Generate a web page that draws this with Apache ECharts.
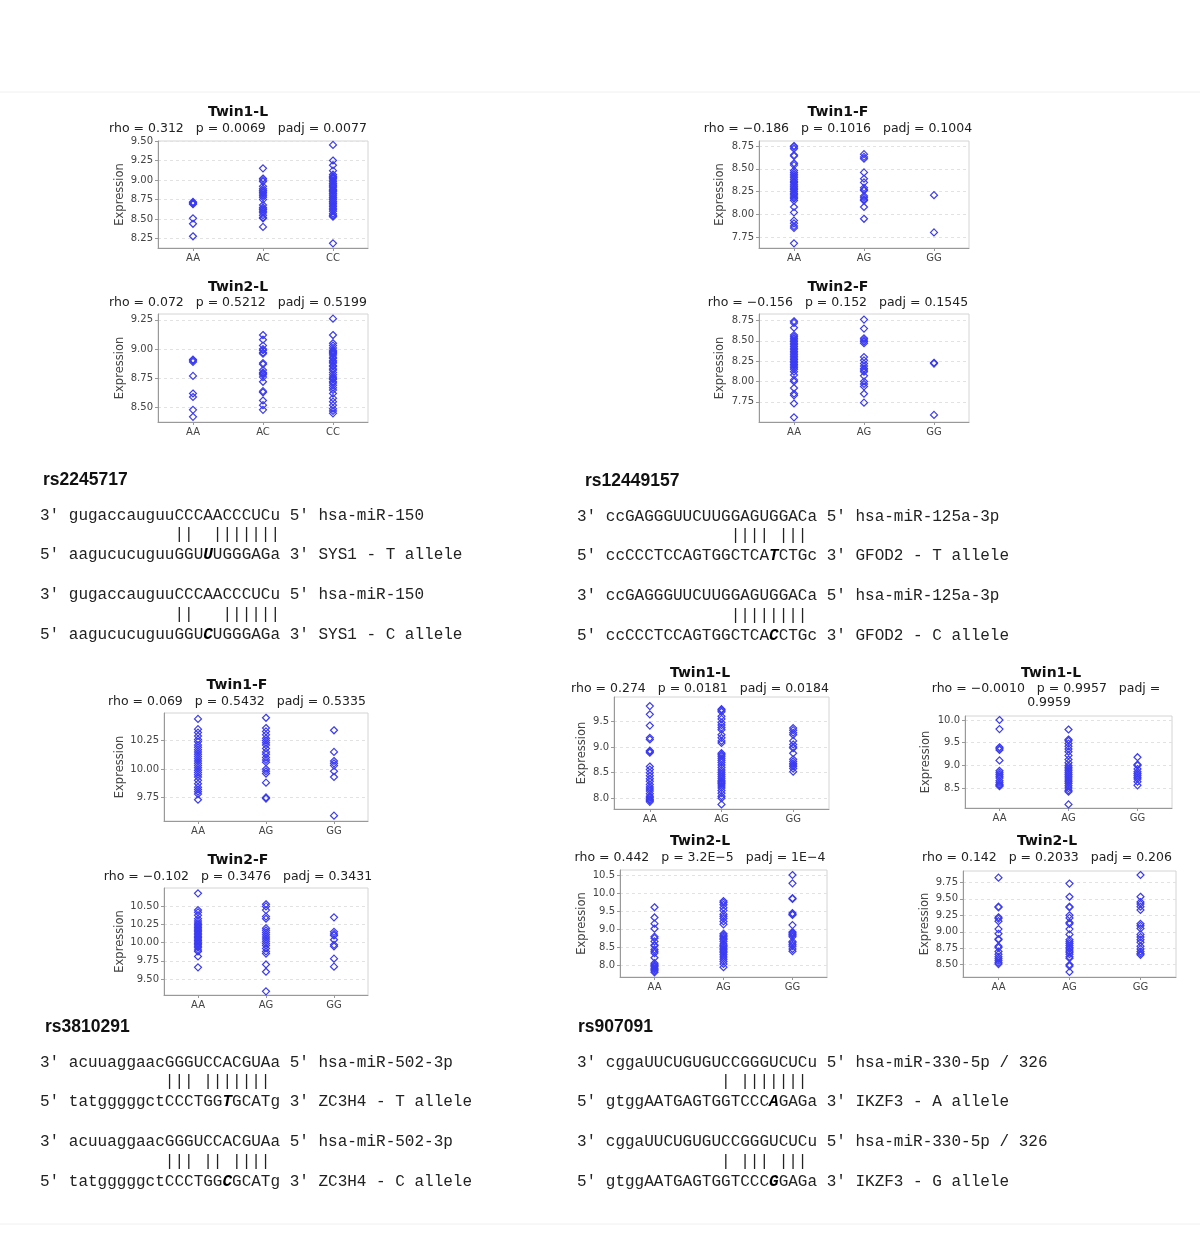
<!DOCTYPE html>
<html>
<head>
<meta charset="utf-8">
<title>SNP genotype vs expression</title>
<script src="https://cdn.jsdelivr.net/npm/echarts@6/dist/echarts.min.js"></script>
<style>
  html, body { margin: 0; padding: 0; background: #fff; }
  #chart { width: 1200px; height: 1238px; }
</style>
</head>
<body>
<div id="chart"></div>
<script>
// genotype categories
const genoAC = ['AA', 'AC', 'CC'];
const genoAG = ['AA', 'AG', 'GG'];

// rs2245717 – Twin1-L / Twin2-L  (AA, AC, CC)
const t1L_rs2245717 = [
  [8.72, 8.71, 8.70, 8.69, 8.51, 8.44, 8.28],
  [9.15, 9.02, 9.00, 8.98, 8.92, 8.89, 8.87, 8.86, 8.84, 8.82, 8.80, 8.78, 8.75, 8.68, 8.65, 8.63, 8.62, 8.60, 8.58, 8.55, 8.52, 8.51, 8.40],
  [9.45, 9.25, 9.19, 9.12, 9.07, 9.05, 9.04, 9.03, 9.02, 9.00, 8.98, 8.96, 8.95, 8.93, 8.92, 8.90, 8.88, 8.87, 8.86, 8.85, 8.83, 8.82, 8.80, 8.78, 8.77, 8.75, 8.73, 8.72, 8.70, 8.68, 8.66, 8.64, 8.62, 8.60, 8.57, 8.55, 8.54, 8.53, 8.19]
];
const t2L_rs2245717 = [
  [8.91, 8.90, 8.89, 8.77, 8.62, 8.59, 8.48, 8.42],
  [9.12, 9.08, 9.03, 9.00, 8.99, 8.97, 8.96, 8.88, 8.87, 8.82, 8.80, 8.79, 8.78, 8.76, 8.72, 8.64, 8.63, 8.56, 8.52, 8.48],
  [9.26, 9.12, 9.05, 9.03, 9.01, 8.99, 8.98, 8.97, 8.96, 8.95, 8.93, 8.92, 8.90, 8.89, 8.88, 8.86, 8.85, 8.83, 8.82, 8.80, 8.78, 8.76, 8.75, 8.74, 8.72, 8.71, 8.69, 8.67, 8.65, 8.62, 8.58, 8.55, 8.52, 8.49, 8.47, 8.45]
];

// rs12449157 – Twin1-F / Twin2-F  (AA, AG, GG)
const t1F_rs12449157 = [
  [8.75, 8.74, 8.72, 8.65, 8.64, 8.56, 8.54, 8.48, 8.46, 8.44, 8.42, 8.40, 8.38, 8.36, 8.35, 8.33, 8.31, 8.30, 8.28, 8.27, 8.25, 8.23, 8.22, 8.20, 8.18, 8.17, 8.15, 8.08, 8.02, 7.93, 7.90, 7.87, 7.85, 7.68],
  [8.66, 8.63, 8.61, 8.46, 8.39, 8.35, 8.29, 8.27, 8.26, 8.20, 8.18, 8.16, 8.15, 8.08, 7.95],
  [8.21, 7.80]
];
const t2F_rs12449157 = [
  [8.74, 8.72, 8.66, 8.57, 8.55, 8.53, 8.51, 8.49, 8.47, 8.45, 8.43, 8.41, 8.39, 8.37, 8.35, 8.33, 8.31, 8.29, 8.27, 8.25, 8.23, 8.21, 8.19, 8.17, 8.15, 8.12, 8.08, 8.02, 8.00, 7.92, 7.85, 7.83, 7.73, 7.56],
  [8.76, 8.65, 8.53, 8.51, 8.49, 8.47, 8.30, 8.26, 8.22, 8.19, 8.16, 8.14, 8.12, 8.07, 8.00, 7.97, 7.94, 7.85, 7.74],
  [8.23, 8.22, 7.59]
];

// rs3810291 – Twin1-F / Twin2-F  (AA, AG, GG)
const t1F_rs3810291 = [
  [10.44, 10.35, 10.32, 10.29, 10.26, 10.24, 10.21, 10.19, 10.17, 10.15, 10.13, 10.11, 10.09, 10.07, 10.05, 10.03, 10.01, 9.99, 9.97, 9.95, 9.93, 9.90, 9.87, 9.84, 9.82, 9.80, 9.78, 9.73],
  [10.45, 10.36, 10.33, 10.30, 10.27, 10.25, 10.23, 10.21, 10.18, 10.15, 10.13, 10.10, 10.08, 10.06, 10.00, 9.98, 9.96, 9.88, 9.75, 9.74],
  [10.34, 10.15, 10.07, 10.05, 10.03, 9.98, 9.93, 9.59]
];
const t2F_rs3810291 = [
  [10.68, 10.45, 10.42, 10.38, 10.33, 10.30, 10.27, 10.25, 10.23, 10.21, 10.19, 10.17, 10.15, 10.13, 10.11, 10.09, 10.07, 10.05, 10.03, 10.01, 9.99, 9.97, 9.95, 9.93, 9.90, 9.88, 9.81, 9.66],
  [10.53, 10.50, 10.45, 10.36, 10.33, 10.20, 10.17, 10.14, 10.11, 10.08, 10.05, 10.02, 9.99, 9.96, 9.92, 9.88, 9.85, 9.70, 9.60, 9.33],
  [10.35, 10.15, 10.12, 10.10, 10.04, 9.97, 9.95, 9.78, 9.67]
];

// rs907091 – Twin1-L / Twin2-L, two probes  (AA, AG, GG)
const t1L_rs907091a = [
  [9.80, 9.64, 9.42, 9.18, 9.15, 8.93, 8.91, 8.89, 8.62, 8.56, 8.50, 8.44, 8.38, 8.33, 8.27, 8.22, 8.18, 8.14, 8.09, 8.04, 8.01, 7.98, 7.96, 7.93],
  [9.74, 9.72, 9.69, 9.60, 9.55, 9.48, 9.43, 9.38, 9.34, 9.24, 9.18, 9.12, 9.08, 8.88, 8.85, 8.82, 8.78, 8.74, 8.70, 8.65, 8.60, 8.55, 8.51, 8.47, 8.43, 8.39, 8.35, 8.32, 8.30, 8.28, 8.24, 8.20, 8.15, 8.10, 8.04, 8.00, 7.88],
  [9.37, 9.33, 9.28, 9.24, 9.12, 9.05, 9.00, 8.98, 8.88, 8.76, 8.72, 8.68, 8.65, 8.62, 8.58, 8.52]
];
const t2L_rs907091a = [
  [9.61, 9.33, 9.16, 9.02, 8.80, 8.76, 8.67, 8.57, 8.55, 8.45, 8.40, 8.35, 8.22, 8.07, 8.03, 8.00, 7.97, 7.93, 7.90, 7.86, 7.82],
  [9.78, 9.74, 9.68, 9.60, 9.52, 9.42, 9.36, 9.30, 9.22, 9.14, 8.88, 8.84, 8.80, 8.76, 8.72, 8.67, 8.60, 8.56, 8.52, 8.48, 8.44, 8.40, 8.36, 8.30, 8.24, 8.18, 8.12, 8.05, 7.96],
  [10.50, 10.27, 9.86, 9.84, 9.45, 9.42, 9.40, 9.12, 8.93, 8.90, 8.87, 8.84, 8.80, 8.67, 8.63, 8.58, 8.54, 8.46, 8.40]
];
const t1L_rs907091b = [
  [10.00, 9.80, 9.40, 9.37, 9.34, 9.11, 8.88, 8.84, 8.80, 8.76, 8.72, 8.66, 8.62, 8.58, 8.56, 8.54],
  [9.79, 9.57, 9.54, 9.48, 9.42, 9.36, 9.30, 9.22, 9.13, 9.06, 9.00, 8.96, 8.92, 8.88, 8.84, 8.80, 8.76, 8.72, 8.68, 8.64, 8.60, 8.55, 8.50, 8.45, 8.42, 8.14],
  [9.18, 9.02, 9.00, 8.92, 8.86, 8.82, 8.78, 8.74, 8.70, 8.64, 8.56]
];
const t2L_rs907091b = [
  [9.82, 9.38, 9.37, 9.22, 9.20, 9.16, 9.04, 8.97, 8.89, 8.88, 8.78, 8.76, 8.70, 8.66, 8.62, 8.59, 8.56, 8.53, 8.51],
  [9.73, 9.53, 9.38, 9.37, 9.25, 9.21, 9.14, 9.12, 9.04, 8.96, 8.88, 8.85, 8.82, 8.79, 8.76, 8.74, 8.71, 8.69, 8.66, 8.62, 8.60, 8.50, 8.48, 8.39],
  [9.86, 9.53, 9.45, 9.42, 9.38, 9.33, 9.12, 9.09, 9.05, 8.96, 8.92, 8.88, 8.84, 8.78, 8.74, 8.70, 8.67, 8.65]
];

// y tick labels per panel
const ticks1 = [8.25, 8.50, 8.75, 9.00, 9.25, 9.50];
const ticks2 = [8.50, 8.75, 9.00, 9.25];
const ticks3 = [7.75, 8.00, 8.25, 8.50, 8.75];
const ticks4 = [7.75, 8.00, 8.25, 8.50, 8.75];
const ticks5 = [9.75, 10.00, 10.25];
const ticks6 = [9.50, 9.75, 10.00, 10.25, 10.50];
const ticks7 = [8.0, 8.5, 9.0, 9.5];
const ticks8 = [8.0, 8.5, 9.0, 9.5, 10.0, 10.5];
const ticks9 = [8.5, 9.0, 9.5, 10.0];
const ticks10 = [8.50, 8.75, 9.00, 9.25, 9.50, 9.75];

// panel titles and statistics
const titles = ['Twin1-L', 'Twin2-L', 'Twin1-F', 'Twin2-F', 'Twin1-F', 'Twin2-F', 'Twin1-L', 'Twin2-L', 'Twin1-L', 'Twin2-L'];
const stats = [
  ['rho = 0.312   p = 0.0069   padj = 0.0077'],
  ['rho = 0.072   p = 0.5212   padj = 0.5199'],
  ['rho = \u22120.186   p = 0.1016   padj = 0.1004'],
  ['rho = \u22120.156   p = 0.152   padj = 0.1545'],
  ['rho = 0.069   p = 0.5432   padj = 0.5335'],
  ['rho = \u22120.102   p = 0.3476   padj = 0.3431'],
  ['rho = 0.274   p = 0.0181   padj = 0.0184'],
  ['rho = 0.442   p = 3.2E\u22125   padj = 1E\u22124'],
  ['rho = \u22120.0010   p = 0.9957   padj =', '0.9959'],
  ['rho = 0.142   p = 0.2033   padj = 0.206']
];

// miRNA / target alignments: [pre, allele, post]
const snpNames = ['rs2245717', 'rs12449157', 'rs3810291', 'rs907091'];
const align_rs2245717 = [
  ["3' gugaccauguuCCCAACCCUCu 5' hsa-miR-150"],
  ["              ||  |||||||"],
  ["5' aagucucuguuGGU", "U", "UGGGAGa 3' SYS1 - T allele"],
  ["3' gugaccauguuCCCAACCCUCu 5' hsa-miR-150"],
  ["              ||   ||||||"],
  ["5' aagucucuguuGGU", "C", "UGGGAGa 3' SYS1 - C allele"]
];
const align_rs12449157 = [
  ["3' ccGAGGGUUCUUGGAGUGGACa 5' hsa-miR-125a-3p"],
  ["                |||| |||"],
  ["5' ccCCCTCCAGTGGCTCA", "T", "CTGc 3' GFOD2 - T allele"],
  ["3' ccGAGGGUUCUUGGAGUGGACa 5' hsa-miR-125a-3p"],
  ["                ||||||||"],
  ["5' ccCCCTCCAGTGGCTCA", "C", "CTGc 3' GFOD2 - C allele"]
];
const align_rs3810291 = [
  ["3' acuuaggaacGGGUCCACGUAa 5' hsa-miR-502-3p"],
  ["             ||| |||||||"],
  ["5' tatgggggctCCCTGG", "T", "GCATg 3' ZC3H4 - T allele"],
  ["3' acuuaggaacGGGUCCACGUAa 5' hsa-miR-502-3p"],
  ["             ||| || ||||"],
  ["5' tatgggggctCCCTGG", "C", "GCATg 3' ZC3H4 - C allele"]
];
const align_rs907091 = [
  ["3' cggaUUCUGUGUCCGGGUCUCu 5' hsa-miR-330-5p / 326"],
  ["               | |||||||"],
  ["5' gtggAATGAGTGGTCCC", "A", "GAGa 3' IKZF3 - A allele"],
  ["3' cggaUUCUGUGUCCGGGUCUCu 5' hsa-miR-330-5p / 326"],
  ["               | ||| |||"],
  ["5' gtggAATGAGTGGTCCC", "G", "GAGa 3' IKZF3 - G allele"]
];

// layout of each panel (plot box in px, y range, label positions)
const panels = [
  { data: t1L_rs2245717, cats: genoAC, ticks: ticks1, dec: 2, box: [158, 141, 210, 107], y: [8.13, 9.50], tx: 238, ty: 112, sy: 129, ex: 120 },
  { data: t2L_rs2245717, cats: genoAC, ticks: ticks2, dec: 2, box: [158, 314, 210, 108], y: [8.376, 9.30], tx: 238, ty: 287, sy: 303, ex: 120 },
  { data: t1F_rs12449157, cats: genoAG, ticks: ticks3, dec: 2, box: [759, 141, 210, 107], y: [7.629, 8.805], tx: 838, ty: 112, sy: 129, ex: 720 },
  { data: t2F_rs12449157, cats: genoAG, ticks: ticks4, dec: 2, box: [759, 314, 210, 108], y: [7.503, 8.829], tx: 838, ty: 287, sy: 303, ex: 720 },
  { data: t1F_rs3810291, cats: genoAG, ticks: ticks5, dec: 2, box: [164, 713, 204, 108], y: [9.543, 10.492], tx: 237, ty: 685, sy: 702, ex: 120 },
  { data: t2F_rs3810291, cats: genoAG, ticks: ticks6, dec: 2, box: [164, 888, 204, 107], y: [9.279, 10.754], tx: 238, ty: 860, sy: 877, ex: 120 },
  { data: t1L_rs907091a, cats: genoAG, ticks: ticks7, dec: 1, box: [614, 697, 215, 112], y: [7.79, 9.978], tx: 700, ty: 673, sy: 689, ex: 582 },
  { data: t2L_rs907091a, cats: genoAG, ticks: ticks8, dec: 1, box: [620, 870, 207, 107], y: [7.69, 10.637], tx: 700, ty: 841, sy: 858, ex: 582 },
  { data: t1L_rs907091b, cats: genoAG, ticks: ticks9, dec: 1, box: [965, 716, 207, 92], y: [8.061, 10.088], tx: 1051, ty: 673, sy: 689, ex: 926 },
  { data: t2L_rs907091b, cats: genoAG, ticks: ticks10, dec: 2, box: [963, 871, 213, 106], y: [8.314, 9.921], tx: 1047, ty: 841, sy: 858, ex: 925 }
];

// alignment block positions
const blocks = [
  { name: snpNames[0], lines: align_rs2245717, hx: 43, hy: 480, lx: 40 },
  { name: snpNames[1], lines: align_rs12449157, hx: 585, hy: 481, lx: 577 },
  { name: snpNames[2], lines: align_rs3810291, hx: 45, hy: 1027, lx: 40 },
  { name: snpNames[3], lines: align_rs907091, hx: 578, hy: 1027, lx: 577 }
];
const lineOffsets = [36, 55, 75, 115, 135, 155];

const POINT = '#3b3bf2';
const LABEL = '#444';
const SANS = '"DejaVu Sans", sans-serif';
const MONO = '"Liberation Mono", monospace';

const myChart = echarts.init(document.getElementById('chart'), null, { renderer: 'canvas' });

const grid = [], xAxis = [], yAxis = [], series = [], graphic = [];

panels.forEach((p, i) => {
  grid.push({
    left: p.box[0], top: p.box[1], width: p.box[2], height: p.box[3],
    show: true, borderColor: '#d4d4d4', borderWidth: 1, backgroundColor: '#fff'
  });
  xAxis.push({
    type: 'category', gridIndex: i, data: p.cats,
    axisLine: { lineStyle: { color: '#999' } },
    axisTick: { show: true, alignWithLabel: true, length: 3, lineStyle: { color: '#999' } },
    axisLabel: { color: LABEL, fontSize: 10, fontFamily: SANS, margin: 5 },
    splitLine: { show: false }
  });
  yAxis.push({
    type: 'value', gridIndex: i, min: p.y[0], max: p.y[1],
    axisLine: { show: true, lineStyle: { color: '#999' } },
    axisTick: { show: true, length: 3, customValues: p.ticks, lineStyle: { color: '#999' } },
    axisLabel: {
      color: LABEL, fontSize: 10, fontFamily: SANS, margin: 5,
      customValues: p.ticks,
      formatter: (v) => Number(v).toFixed(p.dec)
    },
    splitLine: { show: true, lineStyle: { color: '#e2e2e2', type: [3, 3], width: 1 } }
  });
  const pts = [];
  p.data.forEach((group, c) => group.forEach((v) => pts.push([c, v])));
  series.push({
    type: 'scatter', xAxisIndex: i, yAxisIndex: i,
    symbol: 'diamond', symbolSize: 7,
    itemStyle: { color: 'rgba(0,0,0,0)', borderColor: POINT, borderWidth: 1.2, opacity: 1 },
    silent: true,
    data: pts
  });

  // title, statistics, y-axis name
  graphic.push({
    type: 'text', x: p.tx, y: p.ty, silent: true,
    style: { text: titles[i], fill: '#111', font: 'bold 14px ' + SANS, align: 'center', verticalAlign: 'middle' }
  });
  stats[i].forEach((s, k) => {
    graphic.push({
      type: 'text', x: p.tx - (stats[i].length > 1 ? 5 - k * 3 : 0), y: p.sy + k * 14, silent: true,
      style: { text: s, fill: '#222', font: '12.5px ' + SANS, align: 'center', verticalAlign: 'middle' }
    });
  });
  graphic.push({
    type: 'text', x: p.ex, y: p.box[1] + p.box[3] / 2, rotation: Math.PI / 2, silent: true,
    style: { text: 'Expression', fill: LABEL, font: '11.5px ' + SANS, align: 'center', verticalAlign: 'middle' }
  });
});

// sequence alignment blocks
blocks.forEach((b) => {
  graphic.push({
    type: 'text', x: b.hx, y: b.hy, silent: true,
    style: { text: b.name, fill: '#111', font: 'bold 17.5px "Liberation Sans", Arial, sans-serif', verticalAlign: 'middle' }
  });
  b.lines.forEach((ln, k) => {
    const style = { fill: '#222', font: '16px ' + MONO, verticalAlign: 'middle' };
    if (ln.length === 1) {
      style.text = ln[0];
    } else {
      style.text = '{n|' + ln[0] + '}{b|' + ln[1] + '}{n|' + ln[2] + '}';
      style.rich = {
        n: { fontFamily: MONO, fontSize: 16, fill: '#222' },
        b: { fontFamily: MONO, fontSize: 16, fontWeight: 'bold', fontStyle: 'italic', fill: '#000' }
      };
    }
    graphic.push({ type: 'text', x: b.lx, y: b.hy + lineOffsets[k], silent: true, style });
  });
});

// faint page rules above and below the figure
graphic.push({ type: 'line', silent: true, shape: { x1: 0, y1: 92, x2: 1200, y2: 92 }, style: { stroke: '#f0f0f0', lineWidth: 1 } });
graphic.push({ type: 'line', silent: true, shape: { x1: 0, y1: 1224, x2: 1200, y2: 1224 }, style: { stroke: '#f0f0f0', lineWidth: 1 } });

myChart.setOption({
  animation: false,
  backgroundColor: '#fff',
  grid, xAxis, yAxis, series, graphic
});
</script>
</body>
</html>
